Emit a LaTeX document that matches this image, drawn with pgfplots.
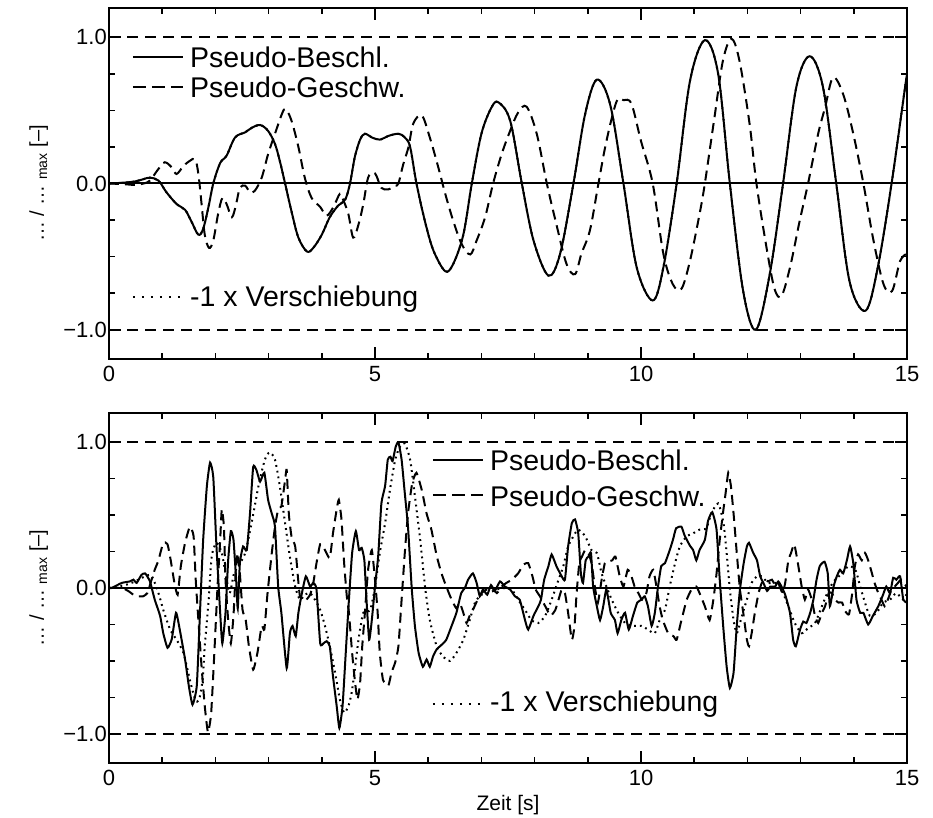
\documentclass[border=0pt]{standalone}
\usepackage{fontspec}
\setmainfont{Liberation Sans}
\usepackage{pgfplots}
\pgfplotsset{compat=1.18}
\usepackage{pgfplotstable}

\pgfplotstableread{
t v
0 0
0.25 0.005
0.49 0.014
0.65 0.03
0.77 0.04
0.93 0.02
1.08 -0.06
1.27 -0.14
1.43 -0.18
1.55 -0.26
1.68 -0.35
1.77 -0.31
1.87 -0.16
1.96 0
2.09 0.14
2.21 0.19
2.37 0.315
2.56 0.35
2.68 0.38
2.84 0.40
2.99 0.36
3.12 0.27
3.21 0.155
3.31 0
3.43 -0.19
3.56 -0.37
3.72 -0.465
3.84 -0.44
4.00 -0.35
4.15 -0.23
4.31 -0.15
4.44 -0.11
4.53 0
4.62 0.18
4.72 0.30
4.81 0.34
4.94 0.315
5.09 0.30
5.25 0.325
5.44 0.34
5.56 0.315
5.66 0.25
5.78 0
5.94 -0.26
6.10 -0.46
6.32 -0.60
6.47 -0.55
6.66 -0.35
6.82 0
7.00 0.34
7.19 0.52
7.32 0.555
7.54 0.43
7.76 0
7.98 -0.39
8.26 -0.63
8.48 -0.48
8.73 0
8.95 0.475
9.17 0.71
9.42 0.54
9.67 0
9.92 -0.575
10.22 -0.80
10.42 -0.575
10.67 0
10.92 0.70
11.20 0.98
11.45 0.75
11.67 0
11.92 -0.735
12.16 -1.0
12.42 -0.62
12.67 0
12.92 0.66
13.17 0.87
13.42 0.66
13.67 0
13.92 -0.67
14.22 -0.87
14.45 -0.575
14.71 0
14.98 0.70
15 0.72
}\topacc

\pgfplotstableread{
t v
0 0
0.3 -0.005
0.5 -0.01
0.65 0
0.77 0.02
0.93 0.10
1.05 0.145
1.18 0.11
1.27 0.065
1.40 0.12
1.52 0.155
1.62 0.165
1.68 0.065
1.74 -0.14
1.80 -0.35
1.88 -0.44
1.96 -0.39
2.05 -0.21
2.13 -0.10
2.21 -0.14
2.31 -0.23
2.39 -0.14
2.46 -0.03
2.56 -0.015
2.65 -0.06
2.74 -0.05
2.87 0.04
2.99 0.20
3.12 0.34
3.25 0.475
3.32 0.51
3.43 0.43
3.56 0.25
3.68 0.04
3.81 -0.10
3.97 -0.16
4.09 -0.22
4.22 -0.16
4.34 -0.07
4.40 -0.11
4.50 -0.21
4.59 -0.37
4.69 -0.28
4.78 -0.14
4.87 0.04
4.97 0.075
5.03 0.05
5.12 -0.03
5.25 -0.04
5.38 -0.015
5.44 0
5.53 0.13
5.63 0.25
5.72 0.41
5.88 0.465
6.03 0.315
6.19 0.11
6.32 -0.07
6.47 -0.255
6.63 -0.415
6.79 -0.485
6.91 -0.39
7.07 -0.23
7.22 0.0
7.38 0.20
7.54 0.36
7.69 0.485
7.85 0.525
8.04 0.34
8.23 0
8.41 -0.28
8.60 -0.55
8.76 -0.62
8.88 -0.48
9.04 -0.32
9.20 0
9.35 0.29
9.54 0.56
9.67 0.57
9.82 0.545
10.00 0.29
10.22 0
10.42 -0.48
10.60 -0.69
10.76 -0.72
10.92 -0.53
11.10 -0.21
11.20 0
11.38 0.45
11.54 0.84
11.70 0.99
11.85 0.84
12.04 0.41
12.17 0
12.36 -0.44
12.51 -0.72
12.64 -0.77
12.80 -0.575
12.98 -0.26
13.14 0
13.33 0.34
13.46 0.52
13.61 0.725
13.80 0.61
13.99 0.34
14.18 0
14.37 -0.39
14.56 -0.69
14.72 -0.735
14.87 -0.53
15.0 -0.48
}\topvel

\pgfplotstableread{
t v
0 0
0.05 0
0.24 0.035
0.39 0.045
0.46 0.057
0.52 0.035
0.61 0.09
0.68 0.10
0.77 0.045
0.86 -0.08
0.96 -0.19
1.02 -0.31
1.10 -0.41
1.18 -0.35
1.26 -0.17
1.33 -0.285
1.43 -0.49
1.50 -0.67
1.57 -0.80
1.65 -0.67
1.71 -0.17
1.77 0.33
1.84 0.70
1.90 0.86
1.96 0.76
2.02 0.285
2.09 -0.17
2.13 -0.38
2.19 -0.17
2.24 0.19
2.29 0.39
2.34 0.33
2.39 0.057
2.42 -0.14
2.46 0.17
2.52 0.285
2.59 0.26
2.65 0.51
2.71 0.83
2.77 0.81
2.84 0.73
2.92 0.79
2.99 0.605
3.06 0.51
3.12 0.42
3.18 0.01
3.24 -0.17
3.34 -0.55
3.40 -0.31
3.45 -0.26
3.51 -0.33
3.56 -0.17
3.62 -0.046
3.70 0.08
3.78 0.01
3.84 0.035
3.90 -0.01
3.97 -0.38
4.03 -0.38
4.09 -0.365
4.15 -0.40
4.21 -0.605
4.28 -0.81
4.33 -0.96
4.39 -0.81
4.45 -0.445
4.51 -0.08
4.57 0.24
4.64 0.39
4.70 0.26
4.75 0.275
4.80 0.19
4.84 -0.08
4.89 -0.355
4.94 -0.22
5.00 0.01
5.06 0.22
5.12 0.58
5.19 0.70
5.24 0.88
5.29 0.90
5.33 0.87
5.39 0.97
5.44 1.0
5.50 0.88
5.56 0.65
5.62 0.42
5.69 0
5.75 -0.26
5.82 -0.445
5.90 -0.54
5.97 -0.49
6.03 -0.54
6.09 -0.47
6.16 -0.42
6.22 -0.40
6.28 -0.38
6.34 -0.355
6.44 -0.26
6.53 -0.17
6.62 -0.035
6.69 0
6.75 0.057
6.84 0.10
6.91 0.035
6.97 -0.057
7.03 -0.01
7.11 -0.046
7.18 0.02
7.25 -0.02
7.35 0.045
7.44 0.01
7.54 -0.01
7.63 -0.057
7.72 -0.08
7.82 -0.22
7.88 -0.285
7.98 -0.19
8.07 -0.125
8.12 -0.08
8.18 0.057
8.26 0.15
8.32 0.23
8.41 0.15
8.51 0.08
8.57 0.057
8.63 0.285
8.70 0.445
8.76 0.47
8.82 0.375
8.87 0.10
8.91 0.035
8.96 0.19
9.01 0.215
9.06 0.24
9.10 0.01
9.17 -0.125
9.23 -0.22
9.29 -0.125
9.35 -0.01
9.43 -0.17
9.51 -0.22
9.56 -0.31
9.63 -0.22
9.70 -0.17
9.77 -0.285
9.85 -0.19
9.93 -0.10
10.01 -0.08
10.07 -0.057
10.13 -0.125
10.20 -0.26
10.26 -0.17
10.32 0.01
10.38 0.15
10.45 0.17
10.54 0.26
10.60 0.33
10.66 0.41
10.76 0.42
10.82 0.36
10.92 0.29
10.98 0.26
11.04 0.19
11.10 0.26
11.20 0.33
11.26 0.46
11.34 0.52
11.42 0.40
11.48 0.057
11.55 -0.285
11.61 -0.54
11.67 -0.685
11.74 -0.58
11.80 -0.26
11.86 -0.01
11.93 0.17
11.99 0.285
12.03 0.31
12.11 0.24
12.18 0.19
12.24 0.08
12.30 0.035
12.37 -0.02
12.43 0.01
12.52 0.01
12.58 0.045
12.64 0.01
12.71 -0.046
12.80 -0.17
12.86 -0.355
12.91 -0.40
12.99 -0.285
13.05 -0.23
13.11 -0.24
13.18 -0.17
13.24 -0.08
13.30 0.057
13.36 0.15
13.45 0.18
13.51 0.10
13.55 -0.125
13.62 0.01
13.68 0.08
13.74 0.125
13.80 0.10
13.87 0.19
13.93 0.285
13.99 0.17
14.05 -0.08
14.12 -0.17
14.18 -0.17
14.27 -0.25
14.36 -0.19
14.46 -0.125
14.55 -0.046
14.61 0.01
14.68 -0.035
14.74 0.07
14.80 0.057
14.87 0.08
14.93 -0.08
15.00 -0.10
}\botacc

\pgfplotstableread{
t v
0 0
0.24 0
0.36 -0.02
0.46 -0.046
0.55 -0.057
0.64 -0.057
0.72 -0.035
0.80 0.057
0.86 0.125
0.93 0.19
1.02 0.31
1.10 0.30
1.16 0.19
1.23 0.035
1.29 -0.046
1.35 0.15
1.43 0.31
1.52 0.42
1.59 0.355
1.63 0.057
1.68 -0.22
1.74 -0.54
1.80 -0.81
1.86 -0.99
1.92 -0.86
1.98 -0.445
2.04 0.01
2.09 0.33
2.12 0.54
2.16 0.42
2.19 0.057
2.24 -0.22
2.29 -0.38
2.34 -0.19
2.38 0.10
2.42 0.24
2.46 0.10
2.51 -0.15
2.57 -0.22
2.63 -0.40
2.71 -0.56
2.79 -0.445
2.87 -0.26
2.92 -0.285
2.98 -0.035
3.06 0.24
3.12 0.42
3.18 0.54
3.24 0.56
3.31 0.74
3.34 0.81
3.38 0.51
3.43 0.355
3.50 0.285
3.55 0.08
3.59 -0.057
3.68 -0.09
3.78 -0.046
3.84 0.035
3.90 0.17
3.97 0.30
4.06 0.26
4.15 0.205
4.21 0.375
4.28 0.54
4.32 0.605
4.37 0.47
4.42 0.17
4.47 -0.057
4.51 -0.17
4.57 -0.445
4.62 -0.63
4.67 -0.765
4.72 -0.65
4.76 -0.40
4.81 -0.17
4.87 0.125
4.94 0.26
5.00 0.057
5.05 -0.17
5.09 -0.445
5.15 -0.63
5.25 -0.67
5.31 -0.58
5.38 -0.51
5.44 -0.40
5.50 -0.08
5.56 0.24
5.62 0.51
5.70 0.72
5.78 0.79
5.88 0.67
5.97 0.51
6.06 0.40
6.16 0.22
6.25 0.10
6.34 0.01
6.44 -0.08
6.53 -0.14
6.59 -0.10
6.66 -0.17
6.72 -0.24
6.78 -0.19
6.84 -0.15
6.93 -0.08
7.00 -0.035
7.10 -0.01
7.19 0.01
7.29 -0.035
7.38 0.01
7.47 0.035
7.57 0.057
7.69 0.10
7.79 0.16
7.88 0.17
7.96 0.08
8.02 -0.01
8.10 -0.057
8.20 -0.125
8.30 -0.19
8.39 -0.15
8.45 -0.08
8.51 -0.01
8.57 -0.035
8.63 -0.17
8.70 -0.355
8.75 -0.26
8.79 -0.035
8.84 0.17
8.89 0.215
8.95 0.26
9.01 0.24
9.07 0.17
9.14 -0.01
9.19 -0.10
9.26 0.057
9.32 0.17
9.38 0.18
9.46 0.19
9.52 0.215
9.60 0.08
9.67 0.01
9.75 0.125
9.82 0.08
9.88 0.01
9.95 -0.035
10.02 -0.08
10.10 -0.035
10.16 0.08
10.23 0.125
10.29 0.01
10.35 -0.125
10.41 -0.22
10.51 -0.31
10.61 -0.33
10.67 -0.355
10.76 -0.22
10.86 -0.08
10.95 -0.01
11.04 0.01
11.10 -0.035
11.20 -0.125
11.29 -0.22
11.36 -0.08
11.42 0.10
11.48 0.33
11.55 0.54
11.59 0.65
11.64 0.79
11.69 0.70
11.74 0.51
11.80 0.24
11.86 -0.01
11.93 -0.19
11.99 -0.355
12.03 -0.40
12.08 -0.31
12.14 -0.17
12.21 -0.035
12.27 0.035
12.33 0.057
12.39 0.045
12.46 0.057
12.52 0.02
12.58 0.035
12.66 -0.035
12.71 0.035
12.77 0.19
12.82 0.24
12.88 0.30
12.94 0.19
13.02 0.01
13.08 -0.08
13.14 -0.01
13.21 -0.08
13.27 -0.19
13.33 -0.24
13.40 -0.17
13.46 -0.125
13.53 -0.035
13.59 -0.035
13.65 -0.08
13.71 -0.10
13.78 -0.10
13.84 -0.16
13.91 -0.18
13.97 -0.035
14.02 0.15
14.08 0.23
14.15 0.19
14.21 0.24
14.27 0.19
14.33 0.115
14.39 0.035
14.46 -0.035
14.52 -0.08
14.58 -0.125
14.64 -0.08
14.71 -0.01
14.77 0.01
14.83 0.035
14.89 0.057
14.99 0.01
}\botvel

\pgfplotstableread{
t v
0 0
0.30 0.02
0.49 0.045
0.68 0.08
0.80 0.085
0.93 -0.035
1.02 -0.15
1.15 -0.285
1.27 -0.355
1.40 -0.445
1.52 -0.63
1.62 -0.765
1.69 -0.77
1.76 -0.63
1.80 -0.40
1.87 -0.10
1.93 0.215
2.02 0.31
2.12 0.24
2.21 0.057
2.27 -0.035
2.35 0.10
2.43 0.15
2.56 0.24
2.68 0.445
2.81 0.70
2.93 0.88
3.02 0.93
3.12 0.88
3.21 0.70
3.31 0.445
3.40 0.215
3.50 0.01
3.59 -0.08
3.68 -0.046
3.78 -0.035
3.87 -0.08
3.97 -0.15
4.06 -0.26
4.15 -0.40
4.25 -0.58
4.34 -0.765
4.42 -0.855
4.50 -0.81
4.56 -0.72
4.62 -0.56
4.69 -0.355
4.78 -0.17
4.91 -0.15
5.00 0.01
5.09 0.24
5.19 0.445
5.28 0.67
5.38 0.88
5.47 0.97
5.56 0.99
5.66 0.88
5.75 0.63
5.85 0.33
5.94 0.01
6.03 -0.22
6.16 -0.40
6.28 -0.47
6.41 -0.50
6.53 -0.445
6.66 -0.355
6.78 -0.22
6.88 -0.10
7.00 -0.046
7.13 -0.035
7.29 -0.01
7.44 0
7.57 -0.01
7.69 -0.08
7.82 -0.15
7.94 -0.22
8.07 -0.24
8.20 -0.19
8.32 -0.08
8.45 0.057
8.54 0.15
8.63 0.285
8.73 0.355
8.82 0.40
8.95 0.355
9.07 0.26
9.17 0.24
9.26 0.10
9.35 0.01
9.45 -0.08
9.57 -0.17
9.70 -0.24
9.85 -0.26
10.01 -0.26
10.13 -0.285
10.26 -0.31
10.35 -0.22
10.45 -0.15
10.54 0.01
10.64 0.17
10.73 0.285
10.86 0.355
10.98 0.375
11.10 0.40
11.23 0.41
11.32 0.51
11.45 0.58
11.55 0.445
11.61 0.24
11.67 -0.01
11.74 -0.22
11.80 -0.31
11.86 -0.24
11.93 -0.15
11.99 -0.08
12.08 0.035
12.18 0.08
12.27 0.08
12.39 0.035
12.52 0.035
12.64 -0.01
12.77 -0.125
12.89 -0.24
13.02 -0.31
13.14 -0.275
13.27 -0.24
13.40 -0.125
13.53 -0.01
13.65 0.057
13.78 0.10
13.90 0.15
14.03 0.125
14.12 0.01
14.21 -0.10
14.30 -0.19
14.43 -0.17
14.55 -0.10
14.68 -0.08
14.80 -0.035
14.93 -0.08
15.00 -0.035
}\botdisp

\tikzset{
  refdash/.style={black, line width=2pt, dash pattern=on 11pt off 7pt},
  refsolid/.style={black, line width=2pt},
  accst/.style={black, line width=2pt},
  velst/.style={black, line width=2pt, dash pattern=on 10pt off 6pt},
  dispst/.style={black, line width=2pt, dash pattern=on 1.8pt off 4pt},
  legvel/.style={black, line width=2pt, dash pattern=on 13pt off 6pt},
  legdisp/.style={black, line width=2pt, dash pattern=on 2pt off 7pt},
  legtext/.style={anchor=base west, inner sep=0pt, font=\fontsize{28.5}{32}\selectfont},
}

\pgfplotsset{
  myaxis/.style={
    scale only axis, width=798pt, height=351pt, anchor=south west,
    xmin=0, xmax=15, ymin=-1.2, ymax=1.2,
    xtick={0,5,10,15}, xticklabels={0,5,10,15},
    minor xtick={1,2,3,4,6,7,8,9,11,12,13,14},
    ytick={-1,0,1}, yticklabels={−1.0,0.0,1.0},
    minor ytick={-0.75,-0.5,-0.25,0.25,0.5,0.75},
    tick align=inside, major tick length=12pt, minor tick length=6pt,
    tick style={black, line width=1.6pt},
    axis line style={line width=2.2pt},
    ticklabel style={font=\fontsize{22}{26}\selectfont},
    xticklabel style={yshift=-4pt},
    yticklabel style={inner xsep=2pt},
    every axis y label/.style={at={(axis description cs:-0.0815,0.5)}, rotate=90, anchor=base, font=\fontsize{20}{23}\selectfont},
    ylabel={… / … \textsubscript{max} [–]},
  },
}

\begin{document}
\begin{tikzpicture}
\path[use as bounding box] (0pt,0pt) rectangle (933pt,817pt);

% top axis
\begin{axis}[myaxis, at={(109pt,458pt)}]
\addplot[refdash] coordinates {(0,1) (15,1)};
\addplot[refdash] coordinates {(0,-1) (15,-1)};
\addplot[refsolid] coordinates {(0,0) (15,0)};
\addplot[dispst, smooth, tension=0.55] table[x=t,y=v] {\topacc};
\addplot[velst, smooth, tension=0.55] table[x=t,y=v] {\topvel};
\addplot[accst, smooth, tension=0.55] table[x=t,y=v] {\topacc};
\draw[accst] (axis cs:0.451,0.863) -- (axis cs:1.391,0.863);
\node[legtext] at (axis cs:1.523,0.795) {Pseudo-Beschl.};
\draw[legvel] (axis cs:0.451,0.658) -- (axis cs:1.391,0.658);
\node[legtext] at (axis cs:1.523,0.589) {Pseudo-Geschw.};
\draw[legdisp] (axis cs:0.451,-0.774) -- (axis cs:1.391,-0.774);
\node[legtext] at (axis cs:1.523,-0.842) {-1 x Verschiebung};
\end{axis}

% bottom axis
\begin{axis}[myaxis, at={(109pt,54pt)}, height=350pt,
  xlabel={Zeit [s]},
  every axis x label/.style={at={(axis description cs:0.5,0)}, anchor=base, yshift=-47pt, font=\fontsize{21}{25}\selectfont}]
\addplot[refdash] coordinates {(0,1) (15,1)};
\addplot[refdash] coordinates {(0,-1) (15,-1)};
\addplot[refsolid] coordinates {(0,0) (15,0)};
\addplot[dispst, smooth, tension=0.4] table[x=t,y=v] {\botdisp};
\addplot[velst, smooth, tension=0.3] table[x=t,y=v] {\botvel};
\addplot[accst, smooth, tension=0.3] table[x=t,y=v] {\botacc};
\draw[accst] (axis cs:6.09,0.877) -- (axis cs:7.03,0.877);
\node[legtext] at (axis cs:7.16,0.808) {Pseudo-Beschl.};
\draw[legvel] (axis cs:6.09,0.637) -- (axis cs:7.03,0.637);
\node[legtext] at (axis cs:7.16,0.562) {Pseudo-Geschw.};
\draw[legdisp] (axis cs:6.09,-0.795) -- (axis cs:7.03,-0.795);
\node[legtext] at (axis cs:7.16,-0.849) {-1 x Verschiebung};
\end{axis}
\end{tikzpicture}
\end{document}
